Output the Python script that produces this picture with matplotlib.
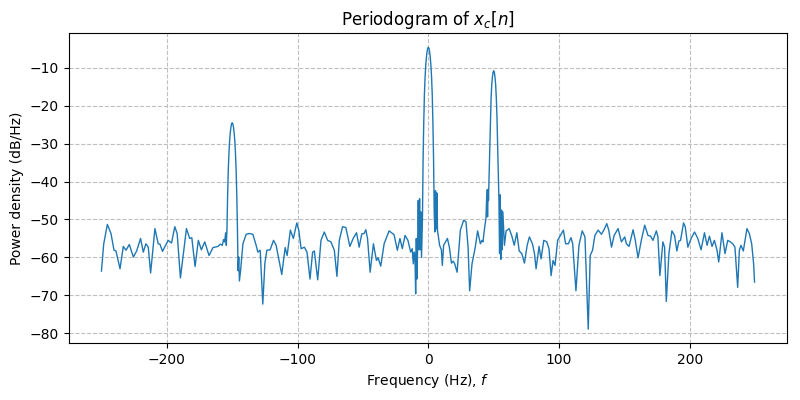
import matplotlib
matplotlib.use("Agg")
import matplotlib.pyplot as plt
import numpy as np

freq_left = [-250.0, -248.3, -245.5, -242.7, -240.4, -238.9, -235.8, -233.3, -231.2, -228.7,
             -225.6, -223.1, -220.1, -218.0, -216.0, -214.2, -212.4, -209.1, -206.6, -205.3,
             -203.3, -199.0, -196.4, -193.9, -192.1, -189.6, -185.0, -182.5, -180.9, -178.4,
             -175.9, -173.6, -171.0, -167.7, -164.7, -160.9, -159.1, -157.6, -156.6, -155.8,
             -155.0, -154.5]
pow_left = [-63.6, -56.5, -51.3, -53.7, -58.1, -58.3, -63.0, -57.1, -58.1, -56.6,
            -59.9, -58.3, -55.0, -58.6, -56.4, -57.3, -64.1, -52.4, -56.4, -56.5,
            -58.4, -55.5, -56.2, -51.9, -53.7, -65.4, -52.4, -55.0, -54.8, -62.4,
            -55.5, -58.0, -55.9, -59.5, -57.4, -57.1, -56.5, -56.8, -55.3, -55.9,
            -53.5, -56.8]

freq_peak150 = [-154.0, -153.5, -153.0, -152.5, -152.0, -151.5, -151.0, -150.5, -150.0,
                -149.5, -149.0, -148.5, -148.0, -147.5, -147.0, -146.5, -146.0]
pow_peak150 = [-52.5, -43.5, -37.0, -32.5, -29.4, -27.2, -25.7, -24.8, -24.5,
               -24.8, -25.7, -27.2, -29.4, -32.5, -37.0, -43.5, -52.5]

freq_mid = [-145.5, -145.0, -144.5, -143.6, -141.8, -139.3, -136.7, -134.2, -131.7, -130.4,
            -128.6, -126.6, -125.0, -123.5, -121.0, -118.4, -116.4, -114.4, -112.1, -109.5,
            -108.0, -105.5, -103.2, -100.6, -99.1, -97.3, -94.8, -92.8, -90.5, -88.5,
            -87.2, -84.6, -82.1, -79.6, -77.0, -74.5, -71.9, -69.9, -68.1, -65.6,
            -63.1, -60.0, -57.5, -54.9, -52.9, -50.9, -49.1, -47.8, -46.5, -44.5,
            -42.0, -39.7, -38.4, -36.4, -33.8, -30.0, -26.2, -23.7, -21.7, -19.9,
            -17.8, -15.6, -13.5, -12.3, -11.5, -10.7, -10.2, -9.7, -9.2, -8.7,
            -8.2, -7.7, -7.2, -6.7, -6.2, -5.7, -5.2, -4.5]
pow_mid = [-63.5, -59.9, -66.2, -63.5, -56.4, -53.9, -53.7, -53.9, -56.8, -58.6,
           -58.1, -72.3, -61.5, -58.1, -58.0, -55.5, -56.8, -60.4, -64.5, -57.4,
           -59.5, -52.8, -55.0, -50.9, -52.8, -57.7, -57.3, -58.6, -65.7, -58.6,
           -58.3, -65.9, -55.5, -53.3, -55.5, -55.9, -58.1, -65.0, -55.5, -51.9,
           -52.1, -57.1, -55.0, -53.5, -57.3, -53.8, -53.7, -52.7, -55.0, -63.9,
           -56.4, -60.8, -60.1, -62.3, -56.4, -53.0, -54.0, -58.1, -55.0, -57.7,
           -54.2, -55.5, -58.6, -57.7, -61.7, -58.6, -60.0, -69.6, -55.0, -65.7,
           -57.5, -45.0, -58.0, -44.5, -58.0, -48.0, -60.0, -50.0]

freq_peak0 = [-4.0, -3.5, -3.0, -2.5, -2.0, -1.5, -1.0, -0.5, 0.0,
              0.5, 1.0, 1.5, 2.0, 2.5, 3.0, 3.5, 4.0, 4.5]
pow_peak0 = [-34.0, -24.5, -17.1, -12.6, -9.5, -7.3, -5.8, -4.9, -4.6,
             -4.9, -5.8, -7.3, -9.5, -12.6, -17.1, -24.5, -34.0, -48.0]

freq_mid2 = [5.0, 5.5, 6.0, 6.5, 7.0, 7.5, 8.6, 10.0, 10.7, 11.7,
             13.0, 14.6, 16.1, 17.7, 19.0, 20.2, 22.0, 24.5, 27.0, 28.8,
             30.4, 31.6, 33.4, 35.9, 37.7, 39.8, 41.0, 41.8, 43.1, 44.1,
             44.8, 45.3, 45.8]
pow_mid2 = [-53.3, -42.4, -52.5, -43.0, -52.9, -54.0, -56.8, -58.0, -62.1, -56.8,
            -56.0, -55.0, -57.3, -61.5, -61.0, -61.7, -63.9, -52.8, -50.2, -50.6,
            -57.3, -68.8, -61.7, -57.3, -53.0, -56.4, -55.5, -55.9, -52.0, -49.7,
            -42.2, -49.3, -42.0]

freq_peak50 = [46.0, 46.5, 47.0, 47.5, 48.0, 48.5, 49.0, 49.5, 50.0,
               50.5, 51.0, 51.5, 52.0, 52.5, 53.0, 53.5, 54.0]
pow_peak50 = [-45.0, -38.0, -30.0, -23.0, -18.0, -14.5, -12.5, -11.2, -10.8,
              -11.2, -12.5, -14.5, -18.0, -23.0, -30.0, -38.0, -45.0]

freq_right = [54.5, 55.0, 55.5, 56.0, 56.5, 57.0, 58.2, 59.5, 61.8, 63.9,
              65.7, 67.7, 69.5, 71.5, 73.5, 75.6, 77.3, 79.6, 81.2, 82.4,
              84.7, 86.2, 88.3, 90.6, 92.3, 93.9, 95.4, 96.9, 98.9, 100.7,
              103.3, 105.0, 107.1, 109.1, 110.4, 112.9, 115.2, 117.7, 119.8, 122.3,
              123.8, 125.6, 127.4, 129.9, 132.4, 134.5, 136.5, 138.0, 140.1, 142.1,
              145.1, 147.7, 150.2, 151.5, 153.5, 156.6, 158.3, 160.4, 162.9, 165.5,
              168.0, 170.0, 171.8, 174.4, 175.6, 177.1, 179.4, 180.7, 182.0, 184.0,
              186.3, 188.3, 190.1, 191.6, 192.9, 195.2, 196.5, 198.5, 201.0, 203.6,
              206.1, 208.6, 211.2, 213.2, 215.0, 217.0, 218.8, 220.8, 222.1, 224.6,
              226.9, 229.0, 231.0, 232.8, 234.5, 236.6, 237.9, 239.1, 240.9, 243.7,
              245.5, 247.3, 248.8, 249.5]
pow_right = [-59.0, -43.5, -60.5, -47.5, -58.0, -48.0, -56.8, -53.0, -52.4, -54.4,
             -56.8, -53.5, -58.3, -59.0, -61.5, -56.8, -54.6, -56.4, -59.0, -63.0,
             -57.1, -60.4, -55.5, -55.9, -57.7, -64.8, -60.8, -62.1, -55.5, -54.4,
             -52.8, -56.4, -56.4, -54.8, -56.4, -68.8, -56.8, -53.0, -54.6, -78.9,
             -59.5, -58.1, -54.2, -52.8, -53.9, -52.6, -51.1, -52.8, -57.3, -54.2,
             -52.4, -55.9, -54.6, -56.4, -57.1, -52.7, -55.5, -60.1, -55.5, -51.5,
             -54.2, -54.4, -55.5, -53.0, -54.6, -64.8, -55.9, -57.3, -71.6, -59.0,
             -53.0, -54.2, -58.3, -55.7, -55.5, -50.9, -51.9, -57.3, -55.0, -53.3,
             -55.0, -58.0, -53.5, -56.8, -54.4, -57.1, -55.5, -58.1, -61.2, -53.5,
             -59.0, -55.5, -55.9, -56.4, -57.3, -67.9, -58.1, -56.8, -58.3, -52.4,
             -53.7, -56.4, -61.7, -66.5]

freqs = np.array(freq_left + freq_peak150 + freq_mid + freq_peak0 + freq_mid2 + freq_peak50 + freq_right)
power = np.array(pow_left + pow_peak150 + pow_mid + pow_peak0 + pow_mid2 + pow_peak50 + pow_right)

fig, ax = plt.subplots(figsize=(8, 4), dpi=100)
ax.plot(freqs, power, color="#1f77b4", linewidth=1.0)
ax.set_title("Periodogram of $x_c[n]$")
ax.set_xlabel("Frequency (Hz), $f$")
ax.set_ylabel("Power density (dB/Hz)")
ax.grid(True, linestyle="--", color="#b0b0b0", alpha=0.8)
fig.subplots_adjust(left=0.086, right=0.984, top=0.917, bottom=0.142)
fig.savefig("out.png", dpi=100)
